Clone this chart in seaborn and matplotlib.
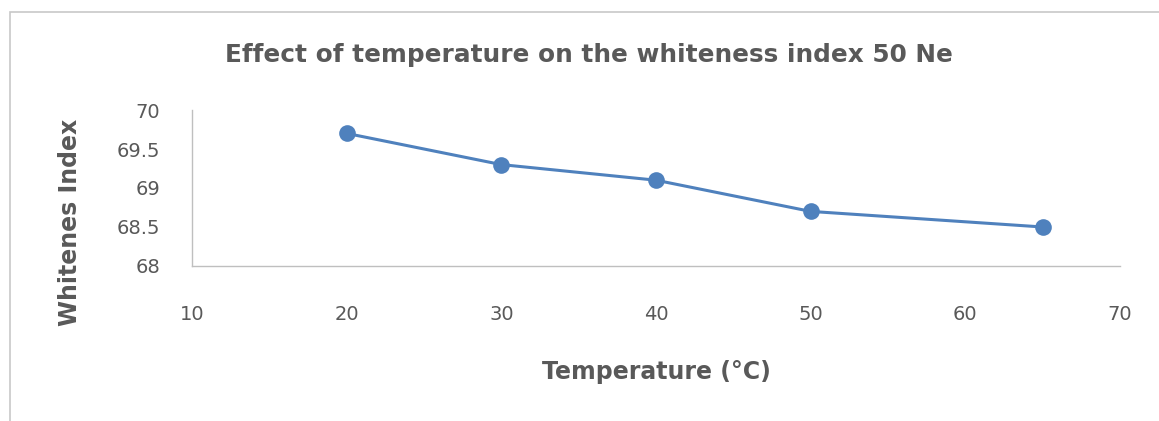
import matplotlib.pyplot as plt
import seaborn as sns
import pandas as pd
from matplotlib.patches import Rectangle

# data
temperature = [20, 30, 40, 50, 65]
whiteness = [69.7, 69.3, 69.1, 68.7, 68.5]
x_ticks = [10, 20, 30, 40, 50, 60, 70]
y_ticks = [68, 68.5, 69, 69.5, 70]
y_tick_labels = ["68", "68.5", "69", "69.5", "70"]

df = pd.DataFrame({"Temperature": temperature, "Whiteness": whiteness})

sns.set_style("white")
plt.rcParams['font.family'] = ['DejaVu Sans']

grey_text = "#595959"
blue = "#4F81BD"

fig = plt.figure(figsize=(11.59, 4.21), dpi=100)
ax = fig.add_axes([0.1657, 0.3682, 0.8006, 0.3705])

sns.lineplot(data=df, x="Temperature", y="Whiteness", ax=ax, color=blue,
             linewidth=2.2, marker="o", markersize=12, markeredgewidth=0,
             markerfacecolor=blue)

ax.set_xlim(10, 70)
ax.set_ylim(68, 70)
ax.set_xticks(x_ticks)
ax.set_yticks(y_ticks)
ax.set_yticklabels(y_tick_labels)
ax.tick_params(axis='x', length=0, pad=28, labelsize=14, labelcolor=grey_text)
ax.tick_params(axis='y', length=0, pad=23, labelsize=14, labelcolor=grey_text)

sns.despine(ax=ax)
for side in ["left", "bottom"]:
    ax.spines[side].set_color("#BFBFBF")
    ax.spines[side].set_linewidth(1.0)

ax.set_xlabel("Temperature (°C)", fontsize=17, fontweight='heavy',
              color=grey_text, va='center')
ax.xaxis.set_label_coords(0.5, -0.679)
ax.set_ylabel("Whitenes Index", fontsize=17, fontweight='heavy',
              color=grey_text, va='center')
ax.yaxis.set_label_coords(-0.1315, 0.282)
fig.text(0.508, 0.87, "Effect of temperature on the whiteness index 50 Ne",
         ha='center', va='center', fontsize=17.8, fontweight='heavy',
         color=grey_text)

# chart-area border (left and top edges visible)
fig.add_artist(Rectangle((10 / 1159, -0.1), 1.2, 1 - 12 / 421 + 0.1,
                         transform=fig.transFigure, fill=False,
                         edgecolor="#C8C8C8", linewidth=1.2))

fig.savefig("out.png", dpi=100)
